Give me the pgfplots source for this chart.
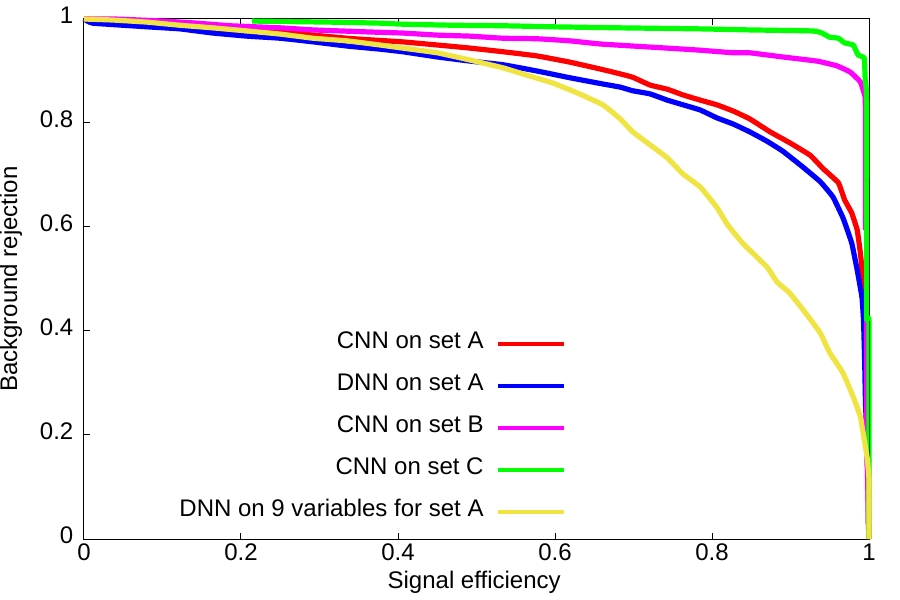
\documentclass[border=0pt]{standalone}
\usepackage{fontspec}
\setmainfont{Liberation Sans}
\usepackage{pgfplots}
\pgfplotsset{compat=1.18}
\definecolor{cnnA}{HTML}{FF0000}
\definecolor{dnnA}{HTML}{0000FF}
\definecolor{cnnB}{HTML}{FF00FF}
\definecolor{cnnC}{HTML}{00FF00}
\definecolor{dnnV}{HTML}{F0E442}
\newcommand{\chartfont}{\fontsize{18}{20}\selectfont}
\begin{document}
\begin{tikzpicture}
\path[use as bounding box] (-63pt,-45.75pt) rectangle (612pt,404.25pt);
\begin{axis}[
    scale only axis,
    width=588.75pt, height=390pt,
    xmin=0, xmax=1, ymin=0, ymax=1,
    clip=false,
    axis line style={line width=0.75pt},
    every tick/.append style={line width=0.75pt, black},
    tick align=inside,
    major tick length=4.5pt,
    xtick={0,0.2,0.4,0.6,0.8,1},
    ytick={0,0.2,0.4,0.6,0.8,1},
    /pgf/number format/assume math mode=true,
    tick label style={font=\chartfont},
    yticklabel style={xshift=-4.5pt, yshift=3pt},
    label style={font=\chartfont},
    xlabel={Signal efficiency},
    ylabel={Background rejection},
    xlabel style={at={(axis description cs:0.497,-0.083)},anchor=center},
    ylabel style={at={(axis description cs:-0.093,0.5)},anchor=center},
    legend plot pos=right,
    legend cell align=right,
    legend style={
        at={(axis description cs:0.6135,0.402)}, anchor=north east,
        draw=none, fill=none, inner sep=0pt, outer sep=0pt,
        font=\chartfont, row sep=13.5pt,
        nodes={inner sep=0pt, text height=14pt, text depth=4pt},
        /tikz/every odd column/.append style={column sep=9pt},
    },
    legend image code/.code={
        \draw[#1,line width=3pt] (0pt,-1.5pt) -- (49.5pt,-1.5pt);
    },
    every axis plot/.append style={line width=3.9pt, line join=round, no markers, smooth, tension=0.2},
]
\addplot[cnnA] coordinates {
(0,1) (0.084,0.990) (0.173,0.979) (0.250,0.975) (0.292,0.969) (0.335,0.963)
(0.364,0.960) (0.406,0.956) (0.450,0.950) (0.492,0.944) (0.534,0.937) (0.577,0.929)
(0.619,0.917) (0.657,0.904) (0.679,0.896) (0.699,0.888) (0.721,0.873) (0.743,0.865)
(0.763,0.854) (0.785,0.844) (0.806,0.835) (0.827,0.823) (0.848,0.808) (0.874,0.783)
(0.899,0.762) (0.925,0.738) (0.941,0.713) (0.961,0.685) (0.969,0.652) (0.978,0.627)
(0.985,0.594) (0.989,0.550) (0.992,0.504) (0.995,0.446) (0.996,0.306) (0.999,0.190) (1,0)
};
\addplot[dnnA] coordinates {
(0,1) (0.011,0.992) (0.080,0.985) (0.122,0.981) (0.164,0.973) (0.208,0.967)
(0.250,0.963) (0.292,0.956) (0.335,0.948) (0.377,0.942) (0.406,0.937) (0.450,0.927)
(0.492,0.919) (0.534,0.912) (0.577,0.900) (0.619,0.887) (0.661,0.875) (0.683,0.869)
(0.699,0.862) (0.721,0.856) (0.743,0.844) (0.763,0.835) (0.785,0.825) (0.806,0.810)
(0.827,0.798) (0.848,0.783) (0.870,0.765) (0.890,0.746) (0.916,0.715) (0.938,0.687)
(0.954,0.658) (0.967,0.617) (0.978,0.569) (0.985,0.517) (0.991,0.465) (0.993,0.421)
(0.9945,0.340) (0.9955,0.263) (0.9965,0.223) (0.998,0.137) (0.999,0.108) (0.999,0.037) (1,0)
};
\addplot[cnnB] coordinates {
(0,1) (0.039,1) (0.101,0.996) (0.144,0.992) (0.186,0.987) (0.250,0.983)
(0.292,0.979) (0.364,0.975) (0.406,0.973) (0.450,0.969) (0.492,0.967) (0.534,0.963)
(0.577,0.962) (0.619,0.958) (0.657,0.952) (0.699,0.948) (0.743,0.944) (0.785,0.940)
(0.827,0.935) (0.848,0.935) (0.890,0.927) (0.934,0.919) (0.959,0.910) (0.976,0.898)
(0.989,0.879) (0.995,0.850) (0.9955,0.806) (0.9955,0.600) (0.997,0.590) (0.997,0.210) (1,0)
};
\addplot[cnnC] coordinates {
(0.214,0.996) (0.313,0.994) (0.377,0.992) (0.406,0.990) (0.470,0.988) (0.534,0.987)
(0.597,0.985) (0.683,0.983) (0.785,0.981) (0.848,0.979) (0.929,0.977) (0.940,0.973)
(0.950,0.965) (0.961,0.963) (0.969,0.954) (0.980,0.950) (0.986,0.931) (0.994,0.925)
(0.995,0.888) (0.997,0.844) (0.997,0.430) (1,0.420) (1,0.130) (1,0)
};
\addplot[black, line width=0.75pt, forget plot] coordinates {(1,0.420) (1,0.110)};
\addplot[dnnV] coordinates {
(0,1) (0.037,0.998) (0.080,0.994) (0.122,0.988) (0.164,0.983) (0.208,0.977)
(0.250,0.971) (0.292,0.963) (0.335,0.958) (0.377,0.950) (0.406,0.944) (0.450,0.935)
(0.492,0.921) (0.534,0.906) (0.564,0.892) (0.597,0.877) (0.628,0.858) (0.661,0.835)
(0.683,0.808) (0.699,0.783) (0.721,0.758) (0.743,0.733) (0.763,0.702) (0.785,0.677)
(0.806,0.638) (0.820,0.604) (0.839,0.569) (0.870,0.523) (0.883,0.494) (0.899,0.473)
(0.921,0.431) (0.938,0.396) (0.950,0.358) (0.967,0.319) (0.980,0.273) (0.989,0.235)
(0.9955,0.177) (0.998,0.152) (1,0.113) (1,0)
};
\legend{CNN on set A, DNN on set A, CNN on set B, CNN on set C, DNN on 9 variables for set A}
\end{axis}
\end{tikzpicture}
\end{document}
